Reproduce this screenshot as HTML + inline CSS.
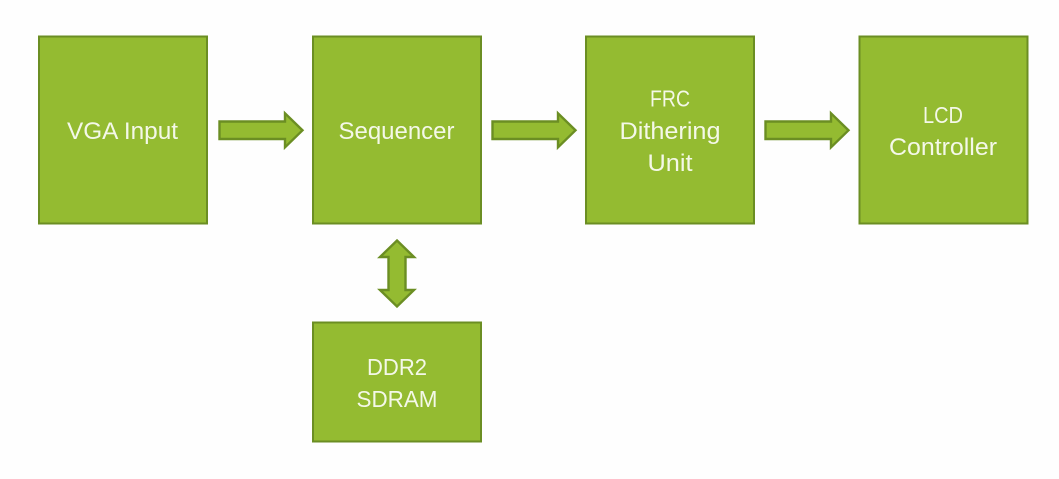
<!DOCTYPE html>
<html>
<head>
<meta charset="utf-8">
<style>
html,body{margin:0;padding:0;background:#fff;width:1059px;height:479px;overflow:hidden}
svg{display:block}
text{font-family:"Liberation Sans",sans-serif;font-size:24px;fill:#f4f8e8;text-anchor:middle}
.c{font-size:23.500px}
.b{fill:#94bb31;stroke:#6b8e23;stroke-width:2}
.a{fill:#94bb31;stroke:#6b8e23;stroke-width:2.400}
</style>
</head>
<body>
<svg width="1059" height="479" viewBox="0 0 1059 479" xmlns="http://www.w3.org/2000/svg">
<rect width="1059" height="479" fill="#fefefe"/>
<rect class="b" x="39" y="36.500" width="168" height="187"/>
<rect class="b" x="313" y="36.500" width="168" height="187"/>
<rect class="b" x="586" y="36.500" width="168" height="187"/>
<rect class="b" x="859.500" y="36.500" width="168" height="187"/>
<rect class="b" x="313" y="322.500" width="168" height="119"/>
<polygon class="a" points="219.500,121.500 285,121.500 285,113.300 302.500,130.300 285,147.300 285,139 219.500,139"/>
<polygon class="a" points="492.500,121.500 558,121.500 558,113.300 575.500,130.300 558,147.300 558,139 492.500,139"/>
<polygon class="a" points="765.500,121.500 831,121.500 831,113.300 848.500,130.300 831,147.300 831,139 765.500,139"/>
<polygon class="a" points="397,240.500 414,257 405.500,257 405.500,290 414,290 397,306.500 380,290 388.500,290 388.500,257 380,257"/>
<text x="122.500" y="139" textLength="111" lengthAdjust="spacingAndGlyphs">VGA Input</text>
<text x="396.500" y="139" textLength="116" lengthAdjust="spacingAndGlyphs">Sequencer</text>
<text class="c" x="670" y="106.500" textLength="40" lengthAdjust="spacingAndGlyphs">FRC</text>
<text x="670" y="139" textLength="101" lengthAdjust="spacingAndGlyphs">Dithering</text>
<text x="670" y="171" textLength="45" lengthAdjust="spacingAndGlyphs">Unit</text>
<text class="c" x="943" y="123" textLength="40" lengthAdjust="spacingAndGlyphs">LCD</text>
<text x="943" y="155" textLength="108" lengthAdjust="spacingAndGlyphs">Controller</text>
<text class="c" x="397" y="375" textLength="60" lengthAdjust="spacingAndGlyphs">DDR2</text>
<text class="c" x="397" y="407" textLength="81" lengthAdjust="spacingAndGlyphs">SDRAM</text>
</svg>
</body>
</html>
